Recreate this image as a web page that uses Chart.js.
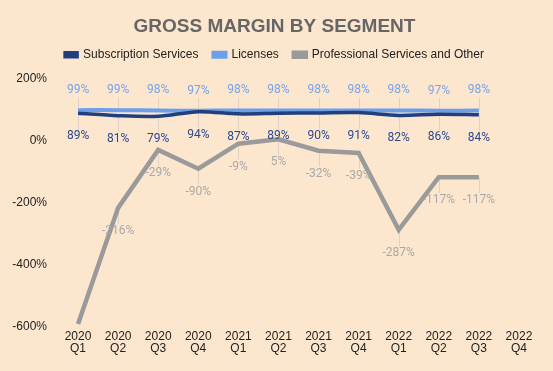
<!DOCTYPE html>
<html>
<head>
<meta charset="utf-8">
<script src="https://cdn.jsdelivr.net/npm/chart.js@4"></script>
<style>
  html, body { margin: 0; padding: 0; background: #fce6ce; }
  #wrap { width: 553px; height: 371px; }
</style>
</head>
<body>
<div id="wrap"><canvas id="myChart" width="553" height="371"></canvas></div>
<script>
const quarters = [["2020","Q1"],["2020","Q2"],["2020","Q3"],["2020","Q4"],["2021","Q1"],["2021","Q2"],["2021","Q3"],["2021","Q4"],["2022","Q1"],["2022","Q2"],["2022","Q3"],["2022","Q4"]]
const subscription = [89, 81, 79, 94, 87, 89, 90, 91, 82, 86, 84, null]
const licenses = [99, 99, 98, 97, 98, 98, 98, 98, 98, 97, 98, null]
const proServices = [-590, -216, -29, -90, -9, 5, -32, -39, -287, -117, -117, null]
const yTicks = [200, 0, -200, -400, -600]

// offset of each series' value label from its point (px)
const labelOffset = [23, -20, 23]
const labelColor = ["#2b4a8e", "#78a4ea", "#a9a9a9"]

const pointLabels = {
  id: "pointLabels",
  afterInit(chart) {
    // a bit more room between legend and plot
    const fit = chart.legend.fit
    chart.legend.fit = function () { fit.call(this); this.height += 8 }
  },
  beforeDatasetsDraw(chart) {
    const ctx = chart.ctx
    const area = chart.chartArea
    ctx.save()
    ctx.strokeStyle = "rgba(215,205,195,0.8)"
    ctx.lineWidth = 1
    chart.data.datasets.forEach((ds, i) => {
      chart.getDatasetMeta(i).data.forEach((pt, j) => {
        if (ds.data[j] == null) return
        const ly = pt.y + labelOffset[i]
        if (ly > area.bottom) return
        ctx.beginPath()
        ctx.moveTo(Math.round(pt.x) + 0.5, pt.y)
        ctx.lineTo(Math.round(pt.x) + 0.5, labelOffset[i] > 0 ? ly - 7 : ly + 7)
        ctx.stroke()
      })
    })
    ctx.restore()
  },
  afterDatasetsDraw(chart) {
    const ctx = chart.ctx
    const area = chart.chartArea
    ctx.save()
    ctx.font = "12px Roboto"
    ctx.textAlign = "center"
    ctx.textBaseline = "middle"
    chart.data.datasets.forEach((ds, i) => {
      chart.getDatasetMeta(i).data.forEach((pt, j) => {
        if (ds.data[j] == null) return
        const ly = pt.y + labelOffset[i]
        if (ly > area.bottom) return
        ctx.fillStyle = labelColor[i]
        ctx.fillText(ds.data[j] + "%", pt.x, ly)
      })
    })
    ctx.restore()
  }
}

const chart = new Chart("myChart", {
  type: "line",
  data: {
    labels: quarters,
    datasets: [{
        label: "Subscription Services",
        data: subscription,
        borderColor: "#1f3f7f",
        backgroundColor: "#1f3f7f",
        borderWidth: 3.5,
        pointRadius: 0,
        tension: 0.3
      },{
        label: "Licenses",
        data: licenses,
        borderColor: "#6d9eea",
        backgroundColor: "#6d9eea",
        borderWidth: 4,
        pointRadius: 0,
        tension: 0.3
      },{
        label: "Professional Services and Other",
        data: proServices,
        borderColor: "#9a9a9a",
        backgroundColor: "#9a9a9a",
        borderWidth: 4.5,
        pointRadius: 0,
        tension: 0
      }
    ]
  },
  options: {
    responsive: false,
    animation: false,
    layout: { padding: { top: 15, right: 14, bottom: 12, left: 10 } },
    plugins: {
      title: {
        display: true,
        text: "GROSS MARGIN BY SEGMENT",
        color: "#666666",
        font: { family: "Liberation Sans", size: 19, weight: "bold" },
        padding: { top: 0, bottom: -4 }
      },
      legend: {
        labels: {
          color: "#222",
          font: { family: "Liberation Sans", size: 12 },
          boxWidth: 12,
          boxHeight: 4,
          padding: 15
        }
      },
      tooltip: { enabled: false }
    },
    scales: {
      x: {
        offset: true,
        grid: { display: false, drawTicks: false },
        border: { display: false },
        ticks: {
          color: "#222",
          font: { family: "Liberation Sans", size: 12, lineHeight: 1 },
          maxRotation: 0,
          autoSkip: false,
          padding: 4
        }
      },
      y: {
        min: -600,
        max: 200,
        grid: { display: false },
        border: { display: false },
        afterFit(scale) { scale.width = 48 },
        afterBuildTicks(scale) { scale.ticks = yTicks.map(v => ({ value: v })) },
        ticks: {
          color: "#222",
          font: { family: "Liberation Sans", size: 12 },
          callback: v => v + "%"
        }
      }
    }
  },
  plugins: [pointLabels]
})
</script>
</body>
</html>
